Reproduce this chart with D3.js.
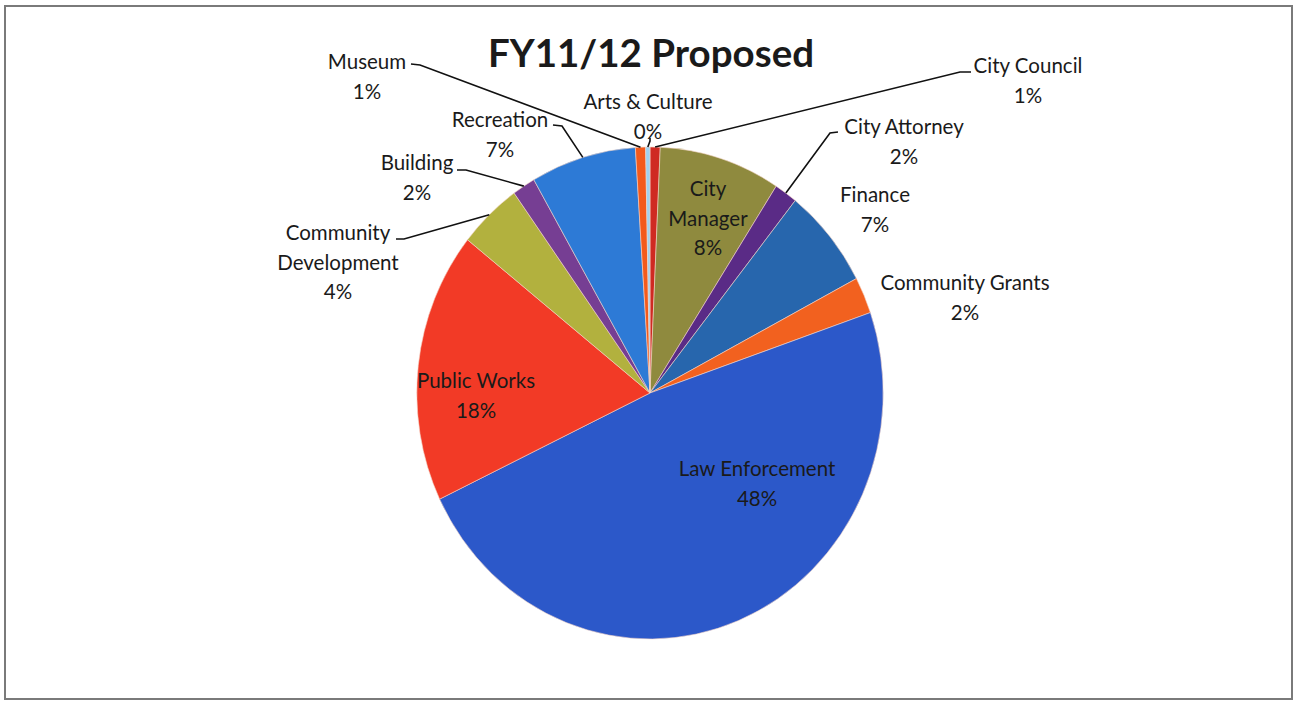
<!DOCTYPE html>
<html>
<head>
<meta charset="utf-8">
<script src="https://cdn.jsdelivr.net/npm/d3@7"></script>
<style>
  body { margin: 0; background: #fff; }
  text { font-family: Lato, "Open Sans", sans-serif; fill: #1a1a1a; }
</style>
</head>
<body>
<div id="chart"></div>
<script>
// slice order is clockwise from 12 o'clock, as Excel drew it
var departments = ["City Council", "City Manager", "City Attorney", "Finance", "Community Grants",
    "Law Enforcement", "Public Works", "Community Development", "Building", "Recreation",
    "Museum", "Arts & Culture"];
var shares = [0.7, 8.4, 1.6, 6.6, 2.4, 48.2, 17.8, 4.4, 1.6, 7.3, 0.7, 0.3];
var colors = ["#cf2a22", "#8f8a3e", "#5a2b86", "#2766ad", "#f2611f",
    "#2c58c9", "#f23a26", "#b2b13e", "#763e93", "#2d7ad6", "#f35a1c", "#9fd2f0"];

var width = 1297, height = 705;
var cx = 650, cy = 393, radius = 246, squash = 0.948;

// where each label sits, and lines of the label text
var labelLayout = {
    "City Council":          {x: 1028, y: 66,  lines: ["City Council"], leader: [[971, 72], [960, 72]]},
    "City Manager":          {x: 708,  y: 189, lines: ["City", "Manager"]},
    "City Attorney":         {x: 904,  y: 127, lines: ["City Attorney"], leader: [[838, 132], [830, 133]]},
    "Finance":               {x: 875,  y: 195, lines: ["Finance"]},
    "Community Grants":      {x: 965,  y: 283, lines: ["Community Grants"]},
    "Law Enforcement":       {x: 757,  y: 469, lines: ["Law Enforcement"]},
    "Public Works":          {x: 476,  y: 381, lines: ["Public Works"]},
    "Community Development": {x: 338,  y: 233, lines: ["Community", "Development"], leader: [[396, 239], [404, 239]]},
    "Building":              {x: 417,  y: 163, lines: ["Building"], leader: [[457, 170], [466, 170]]},
    "Recreation":            {x: 500,  y: 120, lines: ["Recreation"], leader: [[553, 125], [562, 126]]},
    "Museum":                {x: 367,  y: 62,  lines: ["Museum"], leader: [[411, 64], [420, 65]]},
    "Arts & Culture":        {x: 648,  y: 102, lines: ["Arts & Culture"], leader: [[650, 138], [650, 141]]}
};

var data = departments.map(function(d, i){
    return {name: d, value: shares[i], color: colors[i]};
});

var svg = d3.select("#chart").append("svg")
    .attr("width", width)
    .attr("height", height);

// scanned frame
svg.append("rect")
    .attr("x", 5).attr("y", 6)
    .attr("width", 1287).attr("height", 693)
    .attr("fill", "none")
    .attr("stroke", "#7a7a7a")
    .attr("stroke-width", 2);

svg.append("text")
    .attr("x", 651).attr("y", 67)
    .attr("text-anchor", "middle")
    .style("font-size", "38.5px")
    .style("font-weight", "bold")
    .text("FY11/12 Proposed");

var pie = d3.pie().sort(null).value(function(d){ return d.value; });
var arcs = pie(data);

var arc = d3.arc().innerRadius(0).outerRadius(radius);
var edgeArc = d3.arc().innerRadius(radius).outerRadius(radius);

var pieGroup = svg.append("g")
    .attr("transform", "translate(" + cx + "," + cy + ") scale(" + squash + ",1)");

pieGroup.selectAll("path.slice")
    .data(arcs)
    .enter().append("path")
    .attr("class", "slice")
    .attr("d", arc)
    .attr("fill", function(d){ return d.data.color; })
    .attr("stroke", "#f4d6c8")
    .attr("stroke-width", 0.6);

// point on the rim at the slice's middle, in page coordinates
function rimPoint(d){
    var c = edgeArc.centroid(d);
    return [cx + c[0] * squash, cy + c[1]];
}

var line = d3.line();
var labelGroup = svg.append("g");

arcs.forEach(function(d){
    var lay = labelLayout[d.data.name];
    if (lay.leader){
        var pts = lay.leader.concat([rimPoint(d)]);
        labelGroup.append("path")
            .attr("d", line(pts))
            .attr("fill", "none")
            .attr("stroke", "#111")
            .attr("stroke-width", 1.6);
    }
    var lines = lay.lines.concat([Math.round(d.data.value) + "%"]);
    var t = labelGroup.append("text")
        .attr("text-anchor", "middle")
        .style("font-size", "20.5px");
    lines.forEach(function(l, i){
        t.append("tspan")
            .attr("x", lay.x)
            .attr("y", lay.y + 7 + i * 29.5)
            .text(l);
    });
});
</script>
</body>
</html>
